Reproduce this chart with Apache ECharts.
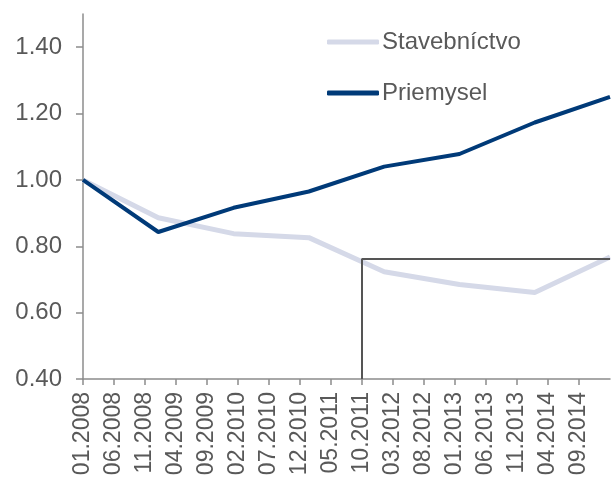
<!DOCTYPE html>
<html>
<head>
<meta charset="utf-8">
<script src="https://cdn.jsdelivr.net/npm/echarts@6/dist/echarts.min.js"></script>
<style>
  html, body { margin: 0; padding: 0; background: #fff; }
  #chart { width: 611px; height: 484px; }
</style>
</head>
<body>
<div id="chart"></div>
<script>
// monthly axis 01.2008 .. 02.2015, labelled every 5 months
const months = [];
for (let y = 2008; y <= 2015; y++) {
  for (let m = 1; m <= 12; m++) {
    if (y === 2015 && m > 2) break;
    months.push((m < 10 ? '0' + m : '' + m) + '.' + y);
  }
}
// data points (annual, spread evenly over the axis)
const points = ['2008', '2009', '2010', '2011', '2012', '2013', '2014', '2015'];
const stavebnictvo = [1.00, 0.886, 0.838, 0.826, 0.723, 0.685, 0.661, 0.768];
const priemysel = [1.00, 0.843, 0.916, 0.965, 1.040, 1.078, 1.173, 1.250];
const yTicks = [0.4, 0.6, 0.8, 1.0, 1.2, 1.4];
// highlighted box
const boxMonth = '10.2011';
const boxLevel = 0.763;

const txt = '#595959';
const axisCol = '#8c8c8c';
const font = 'Liberation Sans, Arial, sans-serif';
const colStav = '#d5d9e8';
const colPriem = '#003a78';

const chart = echarts.init(document.getElementById('chart'));
chart.setOption({
  animation: false,
  backgroundColor: '#fff',
  grid: { left: 83, right: 1, top: 14, bottom: 105, containLabel: false },
  legend: {
    data: [
      { name: 'Stavebníctvo', icon: 'roundRect', itemStyle: { color: colStav } },
      { name: 'Priemysel', icon: 'roundRect', itemStyle: { color: colPriem } }
    ],
    orient: 'vertical',
    left: 327,
    top: 30,
    padding: 0,
    itemWidth: 52,
    itemHeight: 5,
    itemGap: 27,
    textStyle: { color: txt, fontSize: 24, fontFamily: font, lineHeight: 24, padding: [0, 0, 0, -2] }
  },
  xAxis: [
    {
      type: 'category',
      data: months,
      boundaryGap: false,
      axisLine: { lineStyle: { color: axisCol, width: 1.5 } },
      axisTick: { show: true, interval: 4, length: 6, lineStyle: { color: axisCol, width: 1.5 } },
      axisLabel: {
        interval: 4, rotate: 90, margin: 13, showMaxLabel: false,
        color: txt, fontSize: 23, fontFamily: font
      },
      splitLine: { show: false }
    },
    {
      type: 'category',
      data: points,
      boundaryGap: false,
      show: false
    }
  ],
  yAxis: {
    type: 'value',
    min: 0.4,
    max: 1.5,
    interval: 0.1,
    axisLine: { show: true, lineStyle: { color: axisCol, width: 1.5 } },
    axisTick: { show: true, length: 7, customValues: yTicks, lineStyle: { color: axisCol, width: 1.5 } },
    axisLabel: {
      customValues: yTicks,
      formatter: v => v.toFixed(2),
      margin: 21, color: txt, fontSize: 24, fontFamily: font
    },
    splitLine: { show: false }
  },
  series: [
    {
      name: 'Stavebníctvo',
      type: 'line',
      xAxisIndex: 1,
      data: stavebnictvo,
      symbol: 'none',
      lineStyle: { color: colStav, width: 5 },
      itemStyle: { color: colStav },
      z: 2
    },
    {
      name: 'Priemysel',
      type: 'line',
      xAxisIndex: 1,
      data: priemysel,
      symbol: 'none',
      lineStyle: { color: colPriem, width: 4 },
      itemStyle: { color: colPriem },
      z: 3
    },
    {
      name: 'box',
      type: 'line',
      xAxisIndex: 0,
      data: [],
      symbol: 'none',
      z: 4,
      markLine: {
        silent: true,
        symbol: 'none',
        label: { show: false },
        lineStyle: { color: '#555', width: 2, type: 'solid' },
        data: [
          [{ coord: [boxMonth, 0.4] }, { coord: [boxMonth, boxLevel] }],
          [{ coord: [boxMonth, boxLevel] }, { coord: [months[months.length - 1], boxLevel] }]
        ]
      }
    }
  ]
});
</script>
</body>
</html>
